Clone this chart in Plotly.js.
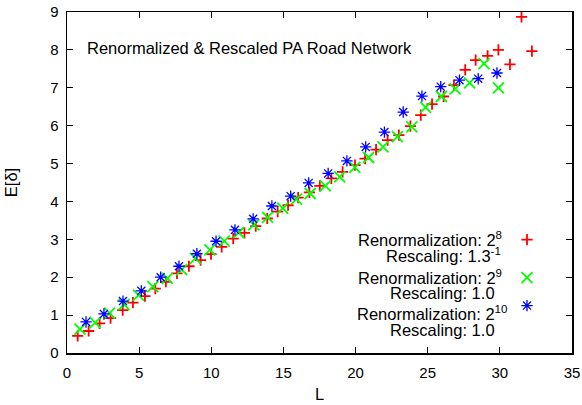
<!DOCTYPE html>
<html><head><meta charset="utf-8">
<script src="https://cdn.plot.ly/plotly-3.0.1.min.js"></script>
<style>html,body{margin:0;padding:0;background:#fff}#plot{width:582px;height:405px}</style>
</head><body><div id="plot"></div>
<script>
// Renormalization 2^8, rescaling 1.3^-1
const redL = [0.74,1.5,2.26,3.02,3.86,4.57,5.4,6.12,6.85,7.62,8.45,9.26,9.98,10.72,11.52,12.3,13.08,13.88,14.6,15.32,16.02,16.8,17.52,18.32,19.1,19.96,20.66,21.42,22.22,23.0,23.8,24.52,25.3,26.1,26.82,27.6,28.32,29.15,29.9,30.7,31.5,32.22];
const redE = [0.45,0.58,0.78,0.92,1.13,1.33,1.5,1.7,1.88,2.1,2.29,2.45,2.61,2.8,3.02,3.17,3.35,3.55,3.73,3.9,4.1,4.24,4.41,4.61,4.78,4.96,5.13,5.37,5.62,5.75,5.99,6.28,6.57,6.77,7.07,7.47,7.73,7.84,8.0,7.62,8.87,7.97];
// Renormalization 2^9, rescaling 1.0
const greenL = [0.9,1.95,2.95,3.95,4.95,5.95,6.95,7.95,8.9,9.9,10.9,11.9,12.95,13.9,14.95,15.9,16.85,17.9,18.9,19.95,20.9,21.9,22.9,23.9,24.85,25.95,26.9,27.9,28.9,29.9];
const greenE = [0.63,0.8,1.05,1.28,1.53,1.75,1.97,2.2,2.5,2.72,2.95,3.18,3.38,3.58,3.82,4.06,4.21,4.41,4.65,4.9,5.16,5.44,5.71,5.97,6.48,6.77,6.97,7.13,7.64,7.0];
// Renormalization 2^10, rescaling 1.0
const blueL = [1.32,2.56,3.88,5.15,6.49,7.76,9.0,10.33,11.64,12.9,14.2,15.5,16.75,18.1,19.4,20.7,22.0,23.3,24.6,25.9,27.2,28.5,29.8];
const blueE = [0.82,1.03,1.37,1.64,2.0,2.29,2.62,2.95,3.25,3.54,3.88,4.14,4.49,4.74,5.07,5.44,5.83,6.36,6.78,7.03,7.2,7.24,7.39];

const xTicks = [0,5,10,15,20,25,30,35];
const yTicks = [0,1,2,3,4,5,6,7,8,9];
const chartTitle = "Renormalized &amp; Rescaled PA Road Network";
const legendLines = [
  ["Renormalization: 2<sup>8</sup>", "Rescaling: 1.3<sup>-1</sup>"],
  ["Renormalization: 2<sup>9</sup>", "Rescaling: 1.0"],
  ["Renormalization: 2<sup>10</sup>", "Rescaling: 1.0"]
];

const FONT = "Liberation Sans, Arial, sans-serif";
const mk = (sym, col, size, w) => ({symbol: sym, size: size, color: col, line: {color: col, width: w}});

const traces = [
  {x: redL, y: redE, type: 'scatter', mode: 'markers', name: ' ', legend: 'legend', marker: mk('cross-thin', '#ff0000', 8, 1.8)},
  {x: greenL, y: greenE, type: 'scatter', mode: 'markers', name: ' ', legend: 'legend2', marker: mk('x-thin', '#00ff00', 11, 1.8)},
  {x: blueL, y: blueE, type: 'scatter', mode: 'markers', name: ' ', legend: 'legend3', marker: mk('asterisk-open', '#0000ff', 9.5, 1.3)}
];

const TS = 16.5;
const ann = [];
ann.push({xref: 'paper', yref: 'paper', x: 0.036, y: 0.893, xanchor: 'left', yanchor: 'middle', showarrow: false,
  text: chartTitle, font: {family: FONT, size: TS, color: '#000'}});
const lineY = [[239, 255], [277, 293], [313, 330]];
const lineX = [[504, 503], [504, 497], [509, 497]];
legendLines.forEach((pair, i) => {
  pair.forEach((t, j) => {
    ann.push({xref: 'paper', yref: 'paper', x: (lineX[i][j] - 67) / 505, y: (353 - lineY[i][j]) / 341,
      xanchor: 'right', yanchor: 'middle', showarrow: false, text: t,
      font: {family: FONT, size: TS, color: '#000'}});
  });
});

const axisCommon = {
  showgrid: false, zeroline: false, showline: true, mirror: 'ticks', linecolor: '#000', linewidth: 1.5,
  ticks: 'inside', ticklen: 6, tickwidth: 1.2, tickcolor: '#000', tickmode: 'array',
  tickfont: {family: FONT, size: 15, color: '#000'}
};

const legBase = {xanchor: 'left', yanchor: 'top', bgcolor: 'rgba(0,0,0,0)',
  font: {family: FONT, size: 14}, itemwidth: 30};
const lx = (507 - 67) / 505;

const layout = {
  width: 582, height: 405,
  margin: {l: 67, r: 10, t: 12, b: 52},
  paper_bgcolor: '#fff', plot_bgcolor: '#fff',
  showlegend: true,
  legend: Object.assign({}, legBase, {x: lx, y: (353 - 224) / 341}),
  legend2: Object.assign({}, legBase, {x: lx, y: (353 - 262) / 341}),
  legend3: Object.assign({}, legBase, {x: lx, y: (353 - 290) / 341}),
  xaxis: Object.assign({}, axisCommon, {range: [0, 35], tickvals: xTicks, ticklabelstandoff: 5,
    title: {text: 'L', font: {family: FONT, size: 16.5, color: '#000'}, standoff: 9}}),
  yaxis: Object.assign({}, axisCommon, {range: [0, 9], tickvals: yTicks, ticklabelstandoff: 4,
    title: {text: 'E[δ]', font: {family: FONT, size: 16.5, color: '#000'}, standoff: 28}}),
  annotations: ann
};

Plotly.newPlot('plot', traces, layout, {displayModeBar: false, staticPlot: true});
</script></body></html>
